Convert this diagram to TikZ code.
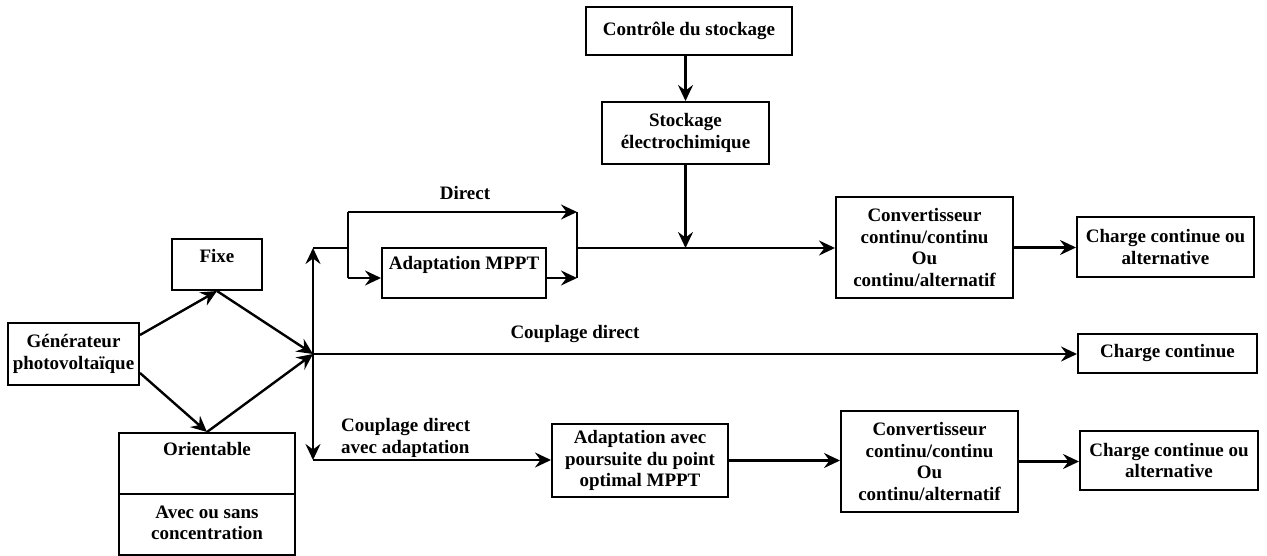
\documentclass[tikz,border=0pt]{standalone}
\usepackage{fontspec}
\setmainfont{Liberation Serif}
\usetikzlibrary{arrows.meta}
\begin{document}
\begin{tikzpicture}[x=1pt,y=-1pt,
  every node/.style={font=\fontsize{19}{21.5}\selectfont\bfseries},
  box/.style={draw,line width=2pt,inner sep=0pt,align=center},
  txt/.style={inner sep=0pt,align=center},
  conn/.style={line width=2.4pt},
  arr/.style={conn,-{Stealth[length=16pt,width=15pt,inset=5.5pt]}}]
\useasboundingbox (0,0) rectangle (1267,556);
% boxes
\node[box,minimum width=131pt,minimum height=62pt] (gen) at (73.5,354) {Générateur\\photovoltaïque};
\node[box,minimum width=90pt,minimum height=51pt] (fixe) at (217,264.5) {};
\node[txt,anchor=base] (fixet) at (217,262) {Fixe};
\node[box,minimum width=176pt,minimum height=122pt] (orient) at (207,494) {};
\node[txt,anchor=base] (orientt) at (207,455) {Orientable};
\node[txt] (avec) at (207,523) {Avec ou sans\\concentration};
\node[box,minimum width=164pt,minimum height=50pt] (mppt) at (464,273) {};
\node[txt,anchor=base] (mpptt) at (464,270) {Adaptation MPPT};
\node[box,minimum width=206pt,minimum height=48pt] (ctrl) at (689,31) {Contrôle du stockage};
\node[box,minimum width=167pt,minimum height=62pt] (stock) at (685.5,133) {Stockage\\électrochimique};
\node[box,minimum width=177pt,minimum height=101pt] (conv1) at (924.5,247.5) {Convertisseur\\continu/continu\\Ou\\continu/alternatif};
\node[box,minimum width=177pt,minimum height=60pt] (ch1) at (1165.5,247) {Charge continue ou\\alternative};
\node[box,minimum width=179pt,minimum height=39pt] (cc) at (1167.5,353.5) {Charge continue};
\node[box,minimum width=176pt,minimum height=73pt] (adapt) at (640,460.5) {Adaptation avec\\poursuite du point\\optimal MPPT};
\node[box,minimum width=177pt,minimum height=101pt] (conv2) at (929.5,461.5) {Convertisseur\\continu/continu\\Ou\\continu/alternatif};
\node[box,minimum width=178pt,minimum height=59pt] (ch2) at (1169,460.5) {Charge continue ou\\alternative};
% labels
\node[txt] (ldirect) at (465,193) {Direct};
\node[txt] (lcd) at (575,334) {Couplage direct};
\node[txt,align=left,anchor=west] (lcda) at (341,438) {Couplage direct\\avec adaptation};
% coordinates
\coordinate (J) at (313,354);
\coordinate (T) at (313,248);
\coordinate (B) at (313,460);
\coordinate (blt) at (348,212);
\coordinate (blm) at (348,248);
\coordinate (blb) at (348,278);
\coordinate (brt) at (577,212);
\coordinate (brm) at (577,248);
\coordinate (brb) at (577,278);
% divider in orientable box
\draw[line width=2pt] (orient.west |- 0,494) -- (orient.east |- 0,494);
% connectors
\draw[arr] ([yshift=19pt]gen.east) -- (fixe.south);
\draw[arr] ([yshift=-19pt]gen.east) -- (orient.north);
\draw[arr] (fixe.south) -- (J);
\draw[arr] (orient.north) -- (J);
\draw[arr] (J) -- (T);
\draw[arr] (J) -- (B);
\draw[conn] (T) -- (blm);
\draw[conn] (blt) -- (blb);
\draw[arr] (blt) -- (brt);
\draw[arr] (blb) -- (blb -| mppt.west);
\draw[arr] (brb -| mppt.east) -- (brb);
\draw[conn] (brt) -- (brb);
\draw[arr] (brm) -- (brm -| conv1.west);
\draw[arr] (stock.north |- ctrl.south) -- (stock.north);
\draw[arr] (stock.south) -- (stock.south |- brm);
\draw[arr] (conv1.east) -- (conv1.east -| ch1.west);
\draw[arr] (J) -- (J -| cc.west);
\draw[arr] (B) -- (B -| adapt.west);
\draw[arr] (adapt.east) -- (adapt.east -| conv2.west);
\draw[arr] (conv2.east) -- (conv2.east -| ch2.west);
\end{tikzpicture}
\end{document}
